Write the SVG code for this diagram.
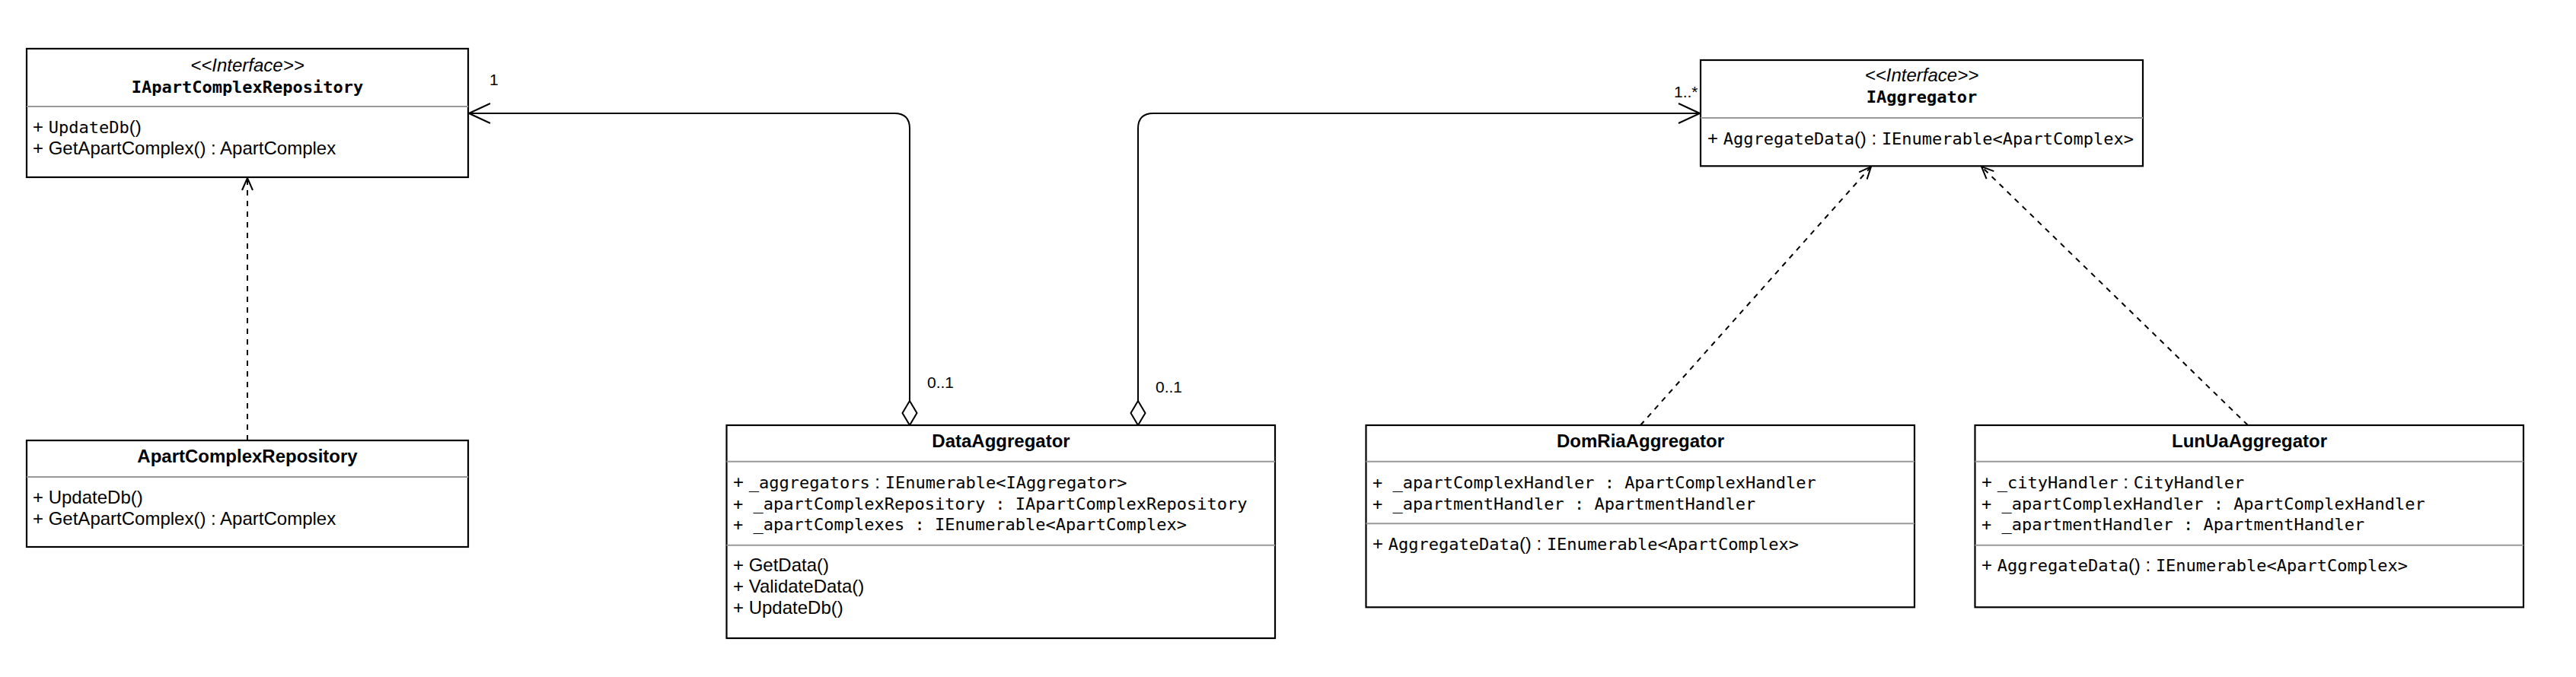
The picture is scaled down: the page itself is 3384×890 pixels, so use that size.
<svg xmlns="http://www.w3.org/2000/svg" width="3384" height="890" viewBox="0 0 3384 890">
<style>
.bg{fill:#fff}
.box{fill:#fff;stroke:#000;stroke-width:2.2}
.sep{stroke:#999;stroke-width:2}
.s{font-family:"Liberation Sans",Arial,sans-serif;font-size:24px;fill:#000}
.m{font-family:"DejaVu Sans Mono","Liberation Mono",monospace;font-size:22px}
.t{font-weight:bold;text-anchor:middle}
.i{font-style:italic;text-anchor:middle}
.lbl{font-family:"Liberation Sans",Arial,sans-serif;font-size:21px;fill:#000}
.conn{fill:none;stroke:#000;stroke-width:2}
.dash{stroke-dasharray:7 7}
</style>
<defs>
<marker id="diamond" viewBox="0 0 34 22" refX="1" refY="11" markerWidth="34" markerHeight="22" markerUnits="userSpaceOnUse" orient="auto">
<path d="M1,11 L17,1.5 L33,11 L17,20.5 Z" fill="#fff" stroke="#000" stroke-width="2"/>
</marker>
<marker id="open" viewBox="0 0 31 28" refX="29" refY="14" markerWidth="31" markerHeight="28" markerUnits="userSpaceOnUse" orient="auto">
<path d="M1,1 L29,14 L1,27" fill="none" stroke="#000" stroke-width="2"/>
</marker>
<marker id="dep" viewBox="0 0 19 16" refX="17" refY="8" markerWidth="19" markerHeight="16" markerUnits="userSpaceOnUse" orient="auto">
<path d="M1,1 L17,8 L1,15" fill="none" stroke="#000" stroke-width="2"/>
</marker>
</defs>
<rect class="bg" x="0" y="0" width="3384" height="890"/>

<g id="connectors">
<path class="conn" d="M1195,559 V169 Q1195,149 1175,149 H616" marker-start="url(#diamond)" marker-end="url(#open)"/>
<path class="conn" d="M1495,559 V169 Q1495,149 1515,149 H2233" marker-start="url(#diamond)" marker-end="url(#open)"/>
<path class="conn dash" d="M325,579 V234" marker-end="url(#dep)"/>
<path class="conn dash" d="M2155,559 L2458,219" marker-end="url(#dep)"/>
<path class="conn dash" d="M2953,559 L2603,219" marker-end="url(#dep)"/>
<text class="lbl" x="643" y="112">1</text>
<text class="lbl" x="1218" y="510">0..1</text>
<text class="lbl" x="1518" y="516">0..1</text>
<text class="lbl" x="2199" y="128">1..*</text>
</g>

<g id="IApartComplexRepository">
<rect class="box" x="35" y="64" width="580" height="169"/>
<line class="sep" x1="35" y1="140" x2="615" y2="140"/>
<text class="s i" x="325" y="94">&lt;&lt;Interface&gt;&gt;</text>
<text class="s m t" x="325" y="122">IApartComplexRepository</text>
<text class="s" x="43" y="175">+ <tspan class="m">UpdateDb</tspan>()</text>
<text class="s" x="43" y="203">+ GetApartComplex() : ApartComplex</text>
</g>

<g id="ApartComplexRepository">
<rect class="box" x="35" y="579" width="580" height="140"/>
<line class="sep" x1="35" y1="627" x2="615" y2="627"/>
<text class="s t" x="325" y="608">ApartComplexRepository</text>
<text class="s" x="43" y="662">+ UpdateDb()</text>
<text class="s" x="43" y="690">+ GetApartComplex() : ApartComplex</text>
</g>

<g id="DataAggregator">
<rect class="box" x="954.5" y="559" width="720.5" height="280"/>
<line class="sep" x1="954.5" y1="606.7" x2="1675" y2="606.7"/>
<line class="sep" x1="954.5" y1="716.7" x2="1675" y2="716.7"/>
<text class="s t" x="1315" y="588">DataAggregator</text>
<text class="s" x="963" y="642">+ <tspan class="m">_aggregators</tspan> : <tspan class="m">IEnumerable&lt;IAggregator&gt;</tspan></text>
<text class="s m" x="963" y="670">+ _apartComplexRepository : IApartComplexRepository</text>
<text class="s m" x="963" y="697">+ _apartComplexes : IEnumerable&lt;ApartComplex&gt;</text>
<text class="s" x="963" y="751">+ GetData()</text>
<text class="s" x="963" y="779">+ ValidateData()</text>
<text class="s" x="963" y="807">+ UpdateDb()</text>
</g>

<g id="DomRiaAggregator">
<rect class="box" x="1794.5" y="559" width="720.5" height="239.3"/>
<line class="sep" x1="1794.5" y1="606.7" x2="2515" y2="606.7"/>
<line class="sep" x1="1794.5" y1="688.3" x2="2515" y2="688.3"/>
<text class="s t" x="2155" y="588">DomRiaAggregator</text>
<text class="s m" x="1803" y="642">+ _apartComplexHandler : ApartComplexHandler</text>
<text class="s m" x="1803" y="670">+ _apartmentHandler : ApartmentHandler</text>
<text class="s" x="1803" y="723">+ <tspan class="m">AggregateData</tspan>() : <tspan class="m">IEnumerable&lt;ApartComplex&gt;</tspan></text>
</g>

<g id="LunUaAggregator">
<rect class="box" x="2594.5" y="559" width="720.5" height="239.3"/>
<line class="sep" x1="2594.5" y1="606.7" x2="3315" y2="606.7"/>
<line class="sep" x1="2594.5" y1="716.7" x2="3315" y2="716.7"/>
<text class="s t" x="2955" y="588">LunUaAggregator</text>
<text class="s" x="2603" y="642">+ <tspan class="m">_cityHandler</tspan> : <tspan class="m">CityHandler</tspan></text>
<text class="s m" x="2603" y="670">+ _apartComplexHandler : ApartComplexHandler</text>
<text class="s m" x="2603" y="697">+ _apartmentHandler : ApartmentHandler</text>
<text class="s" x="2603" y="751">+ <tspan class="m">AggregateData</tspan>() : <tspan class="m">IEnumerable&lt;ApartComplex&gt;</tspan></text>
</g>

<g id="IAggregator">
<rect class="box" x="2234" y="79" width="581" height="139.3"/>
<line class="sep" x1="2234" y1="155" x2="2815" y2="155"/>
<text class="s i" x="2524.5" y="107">&lt;&lt;Interface&gt;&gt;</text>
<text class="s m t" x="2524.5" y="135">IAggregator</text>
<text class="s" x="2243" y="190">+ <tspan class="m">AggregateData</tspan>() : <tspan class="m">IEnumerable&lt;ApartComplex&gt;</tspan></text>
</g>
</svg>
